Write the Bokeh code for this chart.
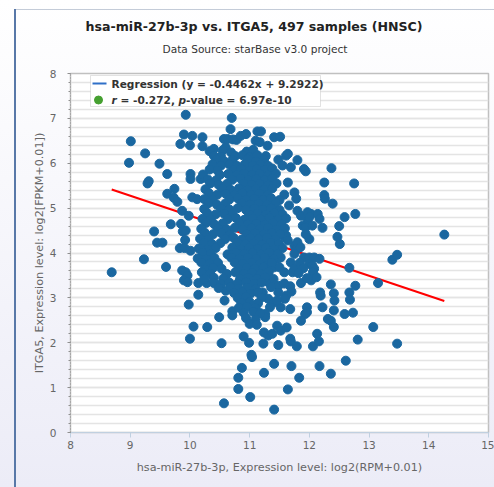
from bokeh.plotting import figure
from bokeh.models import Label, BoxAnnotation, SingleIntervalTicker, Range1d, Title
from bokeh.embed import file_html
from bokeh.resources import INLINE

TITLE = "hsa-miR-27b-3p vs. ITGA5, 497 samples (HNSC)"
SUBTITLE = "Data Source: starBase v3.0 project"
X_LABEL = "hsa-miR-27b-3p, Expression level: log2(RPM+0.01)"
Y_LABEL = "ITGA5, Expression level: log2[FPKM+0.01])"
SLOPE = -0.4462
INTERCEPT = 9.2922
LEGEND_LINE = "Regression (y = -0.4462x + 9.2922)"
R_VALUE = "-0.272"
P_VALUE = "6.97e-10"

# (miR-27b-3p, ITGA5) samples, grouped by region
upper_left = [(9.01,6.49),(9.25,6.22),(8.98,6.01),(9.49,5.99),(9.62,5.76),(9.31,5.60),(9.29,5.55),
    (9.74,5.43),(9.62,5.32),(9.73,5.23),(9.79,5.14),(9.93,7.08),(9.90,6.64),(9.84,6.43),(10.00,6.40),
    (10.04,6.61),(10.01,5.76),(10.01,5.65),(10.18,5.65),(10.04,5.24),(10.12,5.20),(9.87,4.94),(9.98,4.83),
    (9.68,4.64),(9.85,4.65),(9.40,4.48),(9.45,4.23),(9.54,4.23),(9.88,4.48),(9.93,4.50),(9.92,4.29),
    (9.83,4.11),(9.91,4.11),(10.01,4.05),(9.23,3.86),(8.69,3.57),(9.60,3.69),(9.87,3.61),(9.93,3.57),
    (9.96,3.50),(9.90,3.39),(9.96,3.35)]
top = [(10.21,6.58),(10.21,6.38),(10.40,6.32),(10.57,6.54),(10.63,6.54),(10.70,7.01),(10.68,6.76),
    (10.72,6.53),(10.78,6.52),(10.85,6.61),(10.94,6.65),(10.60,6.35),(11.13,6.71),(11.19,6.71),
    (11.10,6.50),(11.17,6.47),(11.30,6.39),(11.41,6.58),(11.51,6.59)]
right_upper = [(11.61,6.17),(11.64,6.21),(11.80,6.07),(11.69,5.91),(11.91,5.87),(11.94,5.82),(12.37,5.89),
    (11.64,5.57),(12.25,5.57),(12.75,5.55),(12.25,5.29),(12.26,5.21),(12.39,5.10),(11.75,5.35),(11.78,5.21),
    (12.03,4.87),(12.14,4.87),(12.17,4.76),(11.97,4.72),(11.89,4.61),(11.94,4.57),(12.05,4.61),(12.22,4.56),
    (12.50,4.60),(11.80,4.94),(11.86,4.83),(11.66,5.06),(12.00,4.31),(11.75,4.16),(11.78,4.07),(11.58,4.36),
    (12.59,4.80),(12.77,4.87),(12.47,4.36),(12.51,4.20),(11.97,4.91),(12.00,4.80),(11.94,4.42),(11.80,4.24),
    (11.85,4.13),(11.61,4.39),(11.64,4.28)]
right_mid = [(14.26,4.41),(13.39,3.85),(13.47,3.96),(12.67,3.67),(13.15,3.33),(12.77,3.27),(12.36,3.30),
    (12.41,3.10),(12.42,2.94),(12.67,3.12),(12.68,2.96),(12.41,2.72),(12.59,2.64),(12.73,2.67),(12.36,2.49),
    (12.41,2.35),(13.07,2.35),(12.81,2.07),(13.47,1.98),(12.61,1.60),(12.36,1.31)]
mid_right = [(11.52,3.90),(11.47,3.87),(11.69,3.79),(11.75,3.98),(11.91,3.90),(12.00,3.90),(12.08,3.90),
    (12.17,3.87),(12.00,3.76),(12.05,3.72),(12.08,3.65),(12.06,3.57),(11.33,3.90),(11.30,3.76),(11.41,3.68),
    (11.50,3.68),(11.58,3.57),(11.72,3.57),(11.75,3.65),(12.03,3.39),(11.86,3.33),(11.68,3.26),(11.70,3.14),
    (11.61,3.05),(11.59,2.98),(11.52,2.79),(11.68,2.75),(11.26,2.64),(11.26,2.57),(11.31,3.35),(11.48,3.27),
    (11.22,3.12),(11.31,2.98),(11.41,2.90),(11.46,2.94),(12.18,3.12),(12.19,3.05),(11.96,2.79),(11.96,2.68),
    (11.93,2.64),(12.22,2.79),(12.31,2.53),(11.86,2.49)]
lower = [(11.24,2.23),(11.31,2.16),(11.38,2.20),(11.46,2.38),(11.52,2.27),(11.62,2.34),(11.68,2.09),
    (12.13,2.20),(11.23,1.98),(11.48,1.95),(11.69,2.03),(11.79,1.92),(12.06,1.92),(12.16,2.03),(11.41,1.53),
    (11.24,1.33),(11.70,1.48),(11.83,1.22),(11.64,0.96),(11.41,0.51),(12.17,1.48),
    (10.06,2.36),(10.29,2.35),(10.00,2.09),(10.49,2.57),(10.14,3.07),(10.14,3.33),(10.28,3.33),(10.53,1.99),
    (10.58,2.94),(10.60,3.16),(10.71,2.70),(10.71,2.61),(10.90,2.14),(10.87,1.44),(10.81,1.22),(10.81,0.97),
    (10.57,0.65),(11.01,0.79),(10.99,2.00),(11.03,1.73),(11.04,1.68),(9.98,2.85)]
core = [(10.33,6.27),(10.55,6.29),(10.69,6.24),(10.95,6.26),(11.06,6.30),
    (10.40,6.17),(10.52,6.15),(10.76,6.16),(10.88,6.18),(11.00,6.14),(11.13,6.18),(11.27,6.16),
    (10.45,6.08),(10.58,6.04),(10.71,6.07),(10.97,6.09),(11.10,6.04),(11.24,6.07),(11.48,6.08),
    (10.38,5.98),(10.52,5.95),(10.66,5.97),(10.79,5.94),(10.92,5.98),(11.05,5.95),(11.18,5.97),(11.31,5.94),(11.55,5.95),
    (10.33,5.86),(10.46,5.84),(10.73,5.85),(10.86,5.88),(11.00,5.84),(11.12,5.87),(11.26,5.85),(11.38,5.88),
    (10.22,5.75),(10.50,5.74),(10.64,5.76),(10.78,5.73),(10.91,5.77),(11.04,5.74),(11.17,5.76),(11.31,5.73),(11.44,5.77),
    (10.30,5.64),(10.44,5.62),(10.71,5.63),(10.85,5.66),(10.98,5.62),(11.11,5.65),(11.25,5.63),(11.38,5.66),
    (10.34,5.55),(10.48,5.52),(10.62,5.54),(10.90,5.55),(11.03,5.52),(11.17,5.54),(11.31,5.51),(11.45,5.55),
    (10.26,5.42),(10.54,5.43),(10.68,5.41),(10.82,5.44),(10.96,5.40),(11.10,5.43),(11.24,5.41),(11.38,5.44),
    (10.32,5.33),(10.46,5.30),(10.60,5.32),(10.74,5.29),(10.88,5.33),(11.02,5.30),(11.16,5.32),(11.30,5.29),(11.58,5.30),
    (10.24,5.20),(10.38,5.18),(10.66,5.19),(10.80,5.22),(10.94,5.18),(11.08,5.21),(11.22,5.19),(11.36,5.22),(11.50,5.18),
    (10.31,5.11),(10.45,5.08),(10.59,5.10),(10.87,5.11),(11.01,5.08),(11.15,5.10),(11.29,5.07),(11.43,5.11),
    (10.24,4.98),(10.52,4.99),(10.66,4.97),(10.80,5.00),(10.94,4.96),(11.08,4.99),(11.22,4.97),(11.36,5.00),(11.50,4.96),
    (10.29,4.89),(10.43,4.86),(10.57,4.88),(10.71,4.85),(10.99,4.86),(11.13,4.88),(11.27,4.85),(11.41,4.89),(11.55,4.86),
    (10.21,4.76),(10.35,4.74),(10.63,4.75),(10.77,4.78),(10.91,4.74),(11.05,4.77),(11.19,4.75),(11.33,4.78),(11.47,4.74),(11.61,4.77),
    (10.27,4.67),(10.41,4.64),(10.55,4.66),(10.83,4.67),(10.97,4.64),(11.11,4.66),(11.25,4.63),(11.39,4.67),(11.53,4.64),
    (10.19,4.54),(10.47,4.55),(10.61,4.53),(10.75,4.56),(10.89,4.52),(11.03,4.55),(11.17,4.53),(11.31,4.56),(11.45,4.52),(11.59,4.55),
    (10.25,4.45),(10.39,4.42),(10.53,4.44),(10.67,4.41),(10.95,4.42),(11.09,4.44),(11.23,4.41),(11.37,4.45),(11.51,4.42),
    (10.17,4.32),(10.31,4.30),(10.59,4.31),(10.73,4.34),(10.87,4.30),(11.01,4.33),(11.15,4.31),(11.29,4.34),(11.43,4.30),
    (10.23,4.23),(10.37,4.20),(10.51,4.22),(10.79,4.23),(10.93,4.20),(11.07,4.22),(11.21,4.19),(11.35,4.23),(11.49,4.20),
    (10.15,4.10),(10.29,4.08),(10.43,4.11),(10.71,4.12),(10.85,4.08),(10.99,4.11),(11.13,4.09),(11.27,4.12),(11.41,4.08),(11.55,4.11),
    (10.21,4.01),(10.35,3.98),(10.63,3.97),(10.77,4.01),(10.91,3.98),(11.05,4.00),(11.19,3.97),(11.33,4.01),(11.47,3.98),
    (10.13,3.88),(10.27,3.86),(10.41,3.89),(10.69,3.90),(10.83,3.86),(10.97,3.89),(11.11,3.87),(11.25,3.90),(11.40,3.86),
    (10.19,3.79),(10.33,3.76),(10.47,3.78),(10.75,3.79),(10.89,3.76),(11.03,3.78),(11.17,3.75),(11.37,3.79),(11.84,3.78),
    (10.25,3.64),(10.39,3.67),(10.53,3.65),(10.81,3.64),(10.95,3.67),(11.09,3.65),(11.23,3.68),(11.90,3.66),
    (10.20,3.57),(10.34,3.54),(10.62,3.53),(10.76,3.57),(10.90,3.54),(11.04,3.56),(11.18,3.53),(11.32,3.57),(11.82,3.55),
    (10.24,3.42),(10.40,3.45),(10.56,3.43),(10.84,3.42),(10.98,3.45),(11.12,3.43),(11.26,3.46),(11.40,3.42),(11.96,3.44),(12.12,3.46),
    (10.40,3.33),(10.52,3.31),(10.66,3.34),(10.80,3.32),(10.94,3.35),(11.08,3.31),(11.20,3.34),(11.58,3.32),
    (10.48,3.22),(10.68,3.24),(10.82,3.21),(10.96,3.23),(11.10,3.20),(11.36,3.24),
    (10.74,3.11),(10.88,3.13),(11.02,3.10),(11.14,3.12),(11.48,3.12),
    (10.80,3.00),(10.94,3.02),(11.20,3.01),
    (10.86,2.89),(11.00,2.91),(11.14,2.88),
    (10.82,2.78),(10.96,2.80),(11.10,2.77),(11.34,2.79),
    (10.90,2.67),(11.06,2.69),(11.18,2.66),
    (10.94,2.55),(11.10,2.52),
    (11.00,2.42),(11.12,2.40)]

groups = [upper_left, top, right_upper, right_mid, mid_right, lower, core]
mir27b = [pt[0] for g in groups for pt in g]
itga5 = [pt[1] for g in groups for pt in g]

# geometry: page pixels of the plot frame (page has no body margin)
X0, X1, Y0, Y1 = 8, 15, 0, 8
W, H = 494, 487
FL, FR, FT, FB = 70, 488, 73, 432

def dx(px):
    return X0 + (px - FL) * (X1 - X0) / (FR - FL)

def dy(py):
    return Y1 - (py - FT) * (Y1 - Y0) / (FB - FT)

p = figure(width=W, height=H, output_backend="svg", toolbar_location=None,
           x_range=Range1d(X0, X1), y_range=Range1d(Y0, Y1),
           min_border_left=FL, min_border_right=W - FR, min_border_top=FT,
           min_border_bottom=H - FB)
p.border_fill_color = None
p.background_fill_color = "white"
p.outline_line_color = "#c0c0c0"
p.outline_line_width = 1.5
p.styles = {"background": "linear-gradient(#5878a8,#5878a8) 14px 9px / 2px calc(100% - 9px) no-repeat, "
                          "linear-gradient(#c4ccd8,#c4ccd8) 14px 9px / calc(100% - 14px) 1px no-repeat, "
                          "linear-gradient(to bottom, #ffffff, #ececf7)"}

# titles (stacked outward from the frame: spacer, subtitle, title)
p.add_layout(Title(text=" ", text_font_size="10px", standoff=1), "above")
p.add_layout(Title(text=SUBTITLE, text_font="DejaVu Sans", text_font_size="10.6px",
                   text_font_style="normal", text_color="#333333", align="left",
                   offset=92, standoff=10), "above")
p.add_layout(Title(text=TITLE, text_font="DejaVu Sans", text_font_size="12.6px",
                   text_font_style="bold", text_color="#222222", align="left",
                   offset=15, standoff=4), "above")

p.xaxis.ticker = SingleIntervalTicker(interval=1, num_minor_ticks=0)
p.yaxis.ticker = SingleIntervalTicker(interval=1, num_minor_ticks=5)
p.xgrid.grid_line_color = None
p.ygrid.grid_line_color = "#e4e4e4"
p.ygrid.grid_line_width = 1.5
p.ygrid.minor_grid_line_color = "#e4e4e4"
p.ygrid.minor_grid_line_width = 1.5

p.xaxis.axis_line_color = "#c0d0e0"
p.xaxis.major_tick_line_color = "#c0d0e0"
p.xaxis.major_tick_out = 5
p.xaxis.major_tick_in = 0
p.xaxis.minor_tick_line_color = None
p.yaxis.axis_line_color = "#909090"
p.yaxis.axis_line_dash = "1 2"
p.yaxis.major_tick_line_color = "#909090"
p.yaxis.major_tick_out = 3
p.yaxis.major_tick_in = 0
p.yaxis.minor_tick_line_color = "#909090"
p.yaxis.minor_tick_out = 2
p.yaxis.minor_tick_in = 0

for ax in (p.xaxis, p.yaxis):
    ax.major_label_text_font = "DejaVu Sans"
    ax.major_label_text_font_size = "10.5px"
    ax.major_label_text_color = "#666666"
    ax.axis_label_text_font = "DejaVu Sans"
    ax.axis_label_text_font_size = "11.2px"
    ax.axis_label_text_font_style = "normal"
    ax.axis_label_text_color = "#666666"
p.xaxis.axis_label = X_LABEL
p.yaxis.axis_label = Y_LABEL
p.xaxis.major_label_standoff = 3
p.xaxis.axis_label_standoff = 9
p.yaxis.major_label_standoff = 11
p.yaxis.axis_label_standoff = 1

# regression line (under the points)
xr = [min(mir27b), max(mir27b)]
yr = [SLOPE * v + INTERCEPT for v in xr]
p.line(xr, yr, line_color="#ff0000", line_width=2)

p.scatter(mir27b, itga5, size=9, fill_color="#1a67a0", line_color="#1a67a0")

# legend
box = BoxAnnotation(left=dx(90), right=dx(320), top=dy(75), bottom=dy(106),
                    fill_color="white", fill_alpha=1, line_color="#a0a0a0", line_width=1,
                    level="underlay")
p.add_layout(box)
p.line([dx(92), dx(106)], [dy(83), dy(83)], line_color="#3070c8", line_width=2)
p.scatter([dx(98)], [dy(99.5)], size=8, fill_color="#45a030", line_color="#45a030")

def lab(text, px, py, size="10.6px", style="bold", color="#333333", align="left"):
    p.add_layout(Label(x=dx(px), y=dy(py), text=text, text_font="DejaVu Sans",
                       text_font_size=size, text_font_style=style, text_color=color,
                       text_align=align, text_baseline="middle"))

lab(LEGEND_LINE, 111, 83)
lab("r", 111, 99.5, style="bold italic")
lab("= " + R_VALUE + ",", 120, 99.5)
lab("p", 178, 99.5, style="bold italic")
lab("-value = " + P_VALUE, 185.6, 99.5)

open("out.html", "w").write(file_html(p, INLINE))
